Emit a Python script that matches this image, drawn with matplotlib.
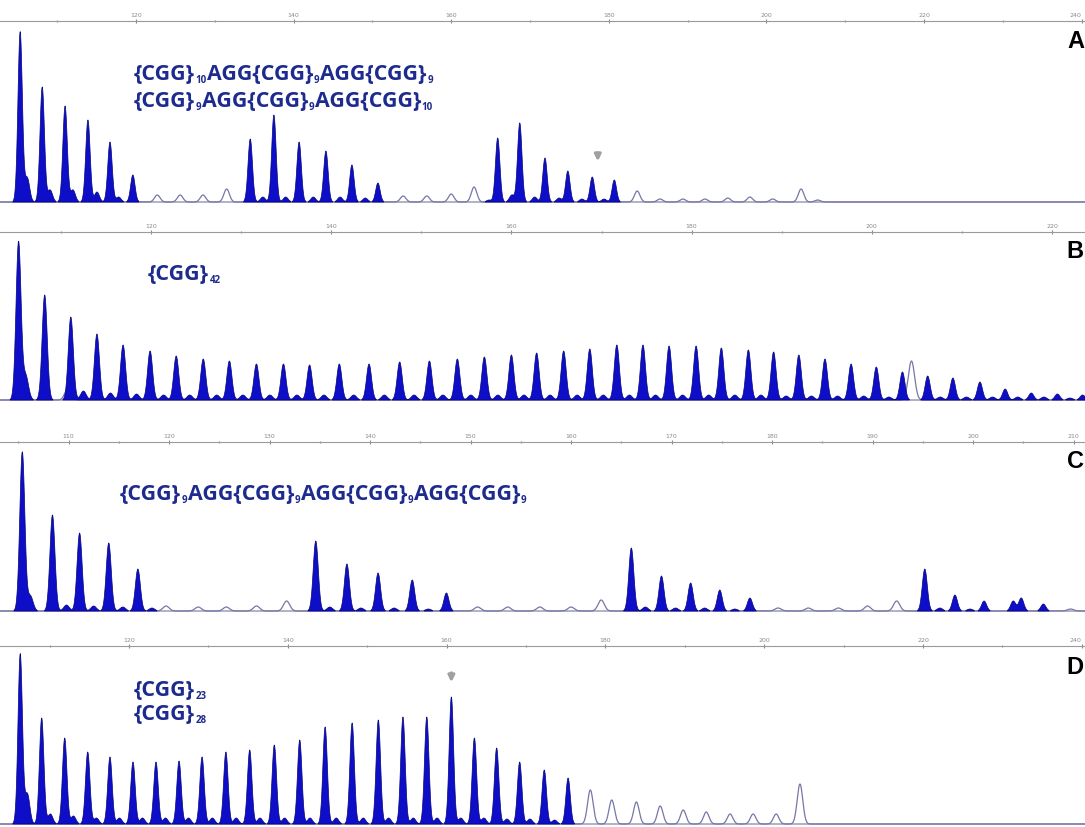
import numpy as np
import matplotlib.pyplot as plt

W, H = 1085, 827

# ---- panel A
a_main_bp = [105.3, 108.1, 111.0, 113.9, 116.7, 119.6, 134.5, 137.5, 140.7, 144.1, 147.4, 150.7,
             165.9, 168.7, 171.9, 174.8, 177.9, 180.7]
a_main_h = [170, 115, 96, 82, 60, 27, 63, 87, 60, 51, 37, 19, 64, 79, 44, 31, 25, 22]
a_minor_bp = [106.2, 109.1, 112.0, 115.05, 117.8, 136.1, 139.0, 142.5, 145.9, 149.1,
              164.8, 167.7, 170.6, 173.7, 176.6, 179.4]
a_minor_h = [24, 12, 12, 10, 5, 5, 5, 5, 5, 4, 2, 7, 5, 4, 3, 3]
a_hollow_bp = [122.7, 125.6, 128.5, 131.5, 153.9, 156.9, 160.0, 162.9, 183.6, 186.5, 189.4,
               192.2, 195.1, 197.9, 200.8, 204.4, 206.5]
a_hollow_h = [7, 7, 7, 13, 6, 6, 8, 15, 11, 3, 3, 3, 4, 5, 3, 13, 2]

# ---- panel B
b_main_bp = [105.3, 108.2, 111.1, 114.0, 116.9, 119.9, 122.8, 125.8, 128.7, 131.7, 134.7, 137.6,
             140.9, 144.2, 147.6, 150.9, 154.0, 157.0, 160.0, 162.8, 165.8, 168.7, 171.7, 174.6,
             177.5, 180.5, 183.3, 186.3, 189.1, 191.9, 194.8, 197.7, 200.5, 203.4, 206.2, 209.0,
             212.0, 214.8, 217.7, 220.6, 223.4]
b_main_h = [158, 105, 83, 66, 55, 49, 44, 41, 39, 36, 36, 35, 36, 36, 38, 39, 41, 43, 45, 47,
            49, 51, 55, 55, 54, 54, 52, 50, 48, 45, 41, 36, 33, 28, 24, 22, 18, 11, 7, 6, 5]
b_minor_bp = [106.1, 112.5, 115.5, 118.4, 121.4, 124.3, 127.3, 130.2, 133.2, 136.2, 139.2, 142.5,
              145.9, 149.2, 152.4, 155.5, 158.5, 161.4, 164.3, 167.3, 170.2, 173.1, 176.0, 179.0,
              181.9, 184.8, 187.7, 190.5, 193.3, 196.2, 199.1, 201.9, 207.6, 210.5, 213.4, 216.2,
              219.1, 222.0]
b_minor_h = [24, 9, 7, 6, 5, 5, 5, 5, 5, 5, 5, 5, 5, 5, 5, 5, 5, 5, 5, 5, 5, 5, 5, 5,
             5, 5, 5, 4, 4, 4, 4, 3, 3, 3, 3, 3, 3, 2]
b_hollow_bp = [110.8, 204.4]
b_hollow_h = [12, 39]

# ---- panel C
c_main_bp = [105.4, 108.4, 111.1, 114.0, 116.9, 134.6, 137.7, 140.8, 144.2, 147.6,
             166.0, 169.0, 171.9, 174.8, 177.8, 195.2, 198.2, 201.1, 204.0, 204.8, 207.0]
c_main_h = [159, 96, 78, 68, 42, 70, 47, 38, 31, 18, 63, 35, 28, 21, 13, 42, 16, 10, 10, 13, 7]
c_minor_bp = [106.2, 109.8, 112.5, 115.4, 118.3, 136.0, 139.1, 142.4, 145.8,
              167.4, 170.4, 173.3, 176.3, 196.7, 199.7]
c_minor_h = [15, 6, 5, 4, 3, 4, 3, 3, 2, 4, 3, 3, 2, 3, 2]
c_hollow_bp = [119.7, 122.9, 125.7, 128.7, 131.7, 150.7, 153.7, 156.9, 160.0, 163.0,
               180.6, 183.6, 186.6, 189.5, 192.4, 209.7]
c_hollow_h = [5, 4, 4, 5, 10, 4, 4, 4, 4, 11, 3, 3, 3, 5, 10, 2]

# ---- panel D
d_main_bp = [106.3, 109.0, 111.9, 114.8, 117.6, 120.5, 123.4, 126.3, 129.2, 132.2, 135.2, 138.3,
             141.5, 144.7, 148.1, 151.4, 154.5, 157.5, 160.6, 163.5, 166.3, 169.2, 172.3, 175.3]
d_main_h = [170, 106, 86, 72, 67, 62, 62, 63, 67, 72, 74, 79, 84, 97, 101, 104, 107, 107,
            127, 86, 76, 62, 54, 46]
d_minor_bp = [107.2, 110.1, 113.0, 115.9, 118.8, 121.7, 124.6, 127.5, 130.5, 133.5, 136.5,
              139.6, 142.8, 146.1, 149.5, 152.7, 155.8, 158.8, 161.8, 164.7, 167.6, 170.5, 173.6]
d_minor_h = [30, 10, 8, 6, 6, 6, 6, 6, 6, 6, 6, 6, 6, 6, 6, 6, 6, 6, 6, 6, 5, 5, 4]
d_hollow_bp = [178.1, 180.8, 183.9, 186.9, 189.8, 192.7, 195.7, 198.6, 201.5, 204.5]
d_hollow_h = [34, 24, 22, 18, 14, 12, 10, 10, 10, 40]

a_ticks = [120, 140, 160, 180, 200, 220, 240]
b_ticks = [120, 140, 160, 180, 200, 220]
c_ticks = [110, 120, 130, 140, 150, 160, 170, 180, 190, 200, 210]
d_ticks = [120, 140, 160, 180, 200, 220, 240]

# allele labels: (text, subscript) pieces
a_line1 = [('{CGG}', '10'), ('AGG{CGG}', '9'), ('AGG{CGG}', '9')]
a_line2 = [('{CGG}', '9'), ('AGG{CGG}', '9'), ('AGG{CGG}', '10')]
b_line = [('{CGG}', '42')]
c_line = [('{CGG}', '9'), ('AGG{CGG}', '9'), ('AGG{CGG}', '9'), ('AGG{CGG}', '9')]
d_line1 = [('{CGG}', '23')]
d_line2 = [('{CGG}', '28')]

BLUE = '#0e0ec8'
EDGE = '#05057a'
HOLLOW = '#7676a8'
BASE = '#9c9cb6'
TXT = '#1d2a8e'


def trace(x, pos, hts, sigma):
    y = np.zeros_like(x)
    for p, h in zip(pos, hts):
        y += h * np.exp(-0.5 * ((x - p) / sigma) ** 2)
    return y


def panel(top_px, base_px, xlim, ticks, step, main, minor, hollow, sigma):
    ax = fig.add_axes([0, 1 - (base_px + 4) / H, 1, (base_px + 4 - top_px) / H])
    x = np.linspace(xlim[0], xlim[1], 8000)
    yb = trace(x, main[0], main[1], sigma) + trace(x, minor[0], minor[1], sigma * 1.1)
    yh = trace(x, hollow[0], hollow[1], sigma * 1.25)
    ax.axhline(0, color=BASE, lw=1.1, zorder=1)
    ax.plot(x, yh, color=HOLLOW, lw=0.9, zorder=2)
    ax.fill_between(x, 0, yb, where=yb > 0.6, color=BLUE, edgecolor=EDGE, lw=0.5, zorder=3)
    ax.xaxis.tick_top()
    ax.set_xticks(ticks)
    ax.set_xticklabels([str(t) for t in ticks])
    minors = [t + step / 2 for t in [ticks[0] - step] + ticks]
    ax.set_xticks([m for m in minors if xlim[0] < m < xlim[1]], minor=True)
    ax.set_xlim(xlim)
    ax.set_ylim(-4, base_px - top_px)
    ax.tick_params(axis='x', which='major', length=3, width=0.8, colors='#8a8a8a',
                   labelsize=4.5, pad=1, direction='inout')
    ax.tick_params(axis='x', which='minor', length=2, width=0.8, colors='#8a8a8a',
                   direction='inout')
    # keep an edge label inside the picture
    last = ax.get_xticklabels()[-1]
    if ax.transData.transform((ticks[-1], 0))[0] > W - 8:
        last.set_horizontalalignment('right')
    ax.set_yticks([])
    for s in ['left', 'right', 'bottom']:
        ax.spines[s].set_visible(False)
    ax.spines['top'].set_color('#9a9a9a')
    ax.spines['top'].set_linewidth(0.8)
    ax.patch.set_alpha(0)
    return ax


fig = plt.figure(figsize=(W / 100, H / 100), dpi=100)
fig.patch.set_facecolor('white')

axA = panel(21, 202, (102.74, 240.43), a_ticks, 20,
            (a_main_bp, a_main_h), (a_minor_bp, a_minor_h), (a_hollow_bp, a_hollow_h), 0.28)
axB = panel(232, 400, (103.24, 223.66), b_ticks, 20,
            (b_main_bp, b_main_h), (b_minor_bp, b_minor_h), (b_hollow_bp, b_hollow_h), 0.28)
axC = panel(442, 611, (103.18, 211.14), c_ticks, 10,
            (c_main_bp, c_main_h), (c_minor_bp, c_minor_h), (c_hollow_bp, c_hollow_h), 0.25)
axD = panel(646, 824, (103.75, 240.4), d_ticks, 20,
            (d_main_bp, d_main_h), (d_minor_bp, d_minor_h), (d_hollow_bp, d_hollow_h), 0.28)

# arrows marking alleles
arrow = dict(arrowstyle='-|>', color='#a0a0a0', lw=2.2, mutation_scale=9)
axA.annotate('', xy=(178.6, 38), xytext=(178.6, 52), arrowprops=arrow)
axD.annotate('', xy=(160.6, 139), xytext=(160.6, 154), arrowprops=arrow)

renderer = fig.canvas.get_renderer()


def allele(px, py, pieces, size=15.4, sub=7):
    # draw text with small subscripts, piece by piece, in pixel coords
    x = px
    for body, low in pieces:
        t = fig.text(x / W, 1 - py / H, body, color=TXT, fontsize=size, fontweight='bold',
                     family='Open Sans', va='baseline', ha='left')
        x = t.get_window_extent(renderer).x1 + 0.5
        s = fig.text(x / W, 1 - (py + 3) / H, low, color=TXT, fontsize=sub, fontweight='bold',
                     family='Open Sans', va='baseline', ha='left')
        x = s.get_window_extent(renderer).x1 + 0.5


allele(134, 80, a_line1)
allele(134, 107, a_line2)
allele(148, 280, b_line)
allele(120, 500, c_line)
allele(134, 696, d_line1)
allele(134, 720, d_line2)


def ftext(px, py, s, **kw):
    fig.text(px / W, 1 - py / H, s, **kw)


letter = dict(color='black', fontsize=17, fontweight='bold', ha='right', va='center',
              family='Liberation Sans')
ftext(1084, 41, 'A', **letter)
ftext(1084, 252, 'B', **letter)
ftext(1084, 462, 'C', **letter)
ftext(1084, 668, 'D', **letter)

fig.savefig('out.png', dpi=100)
